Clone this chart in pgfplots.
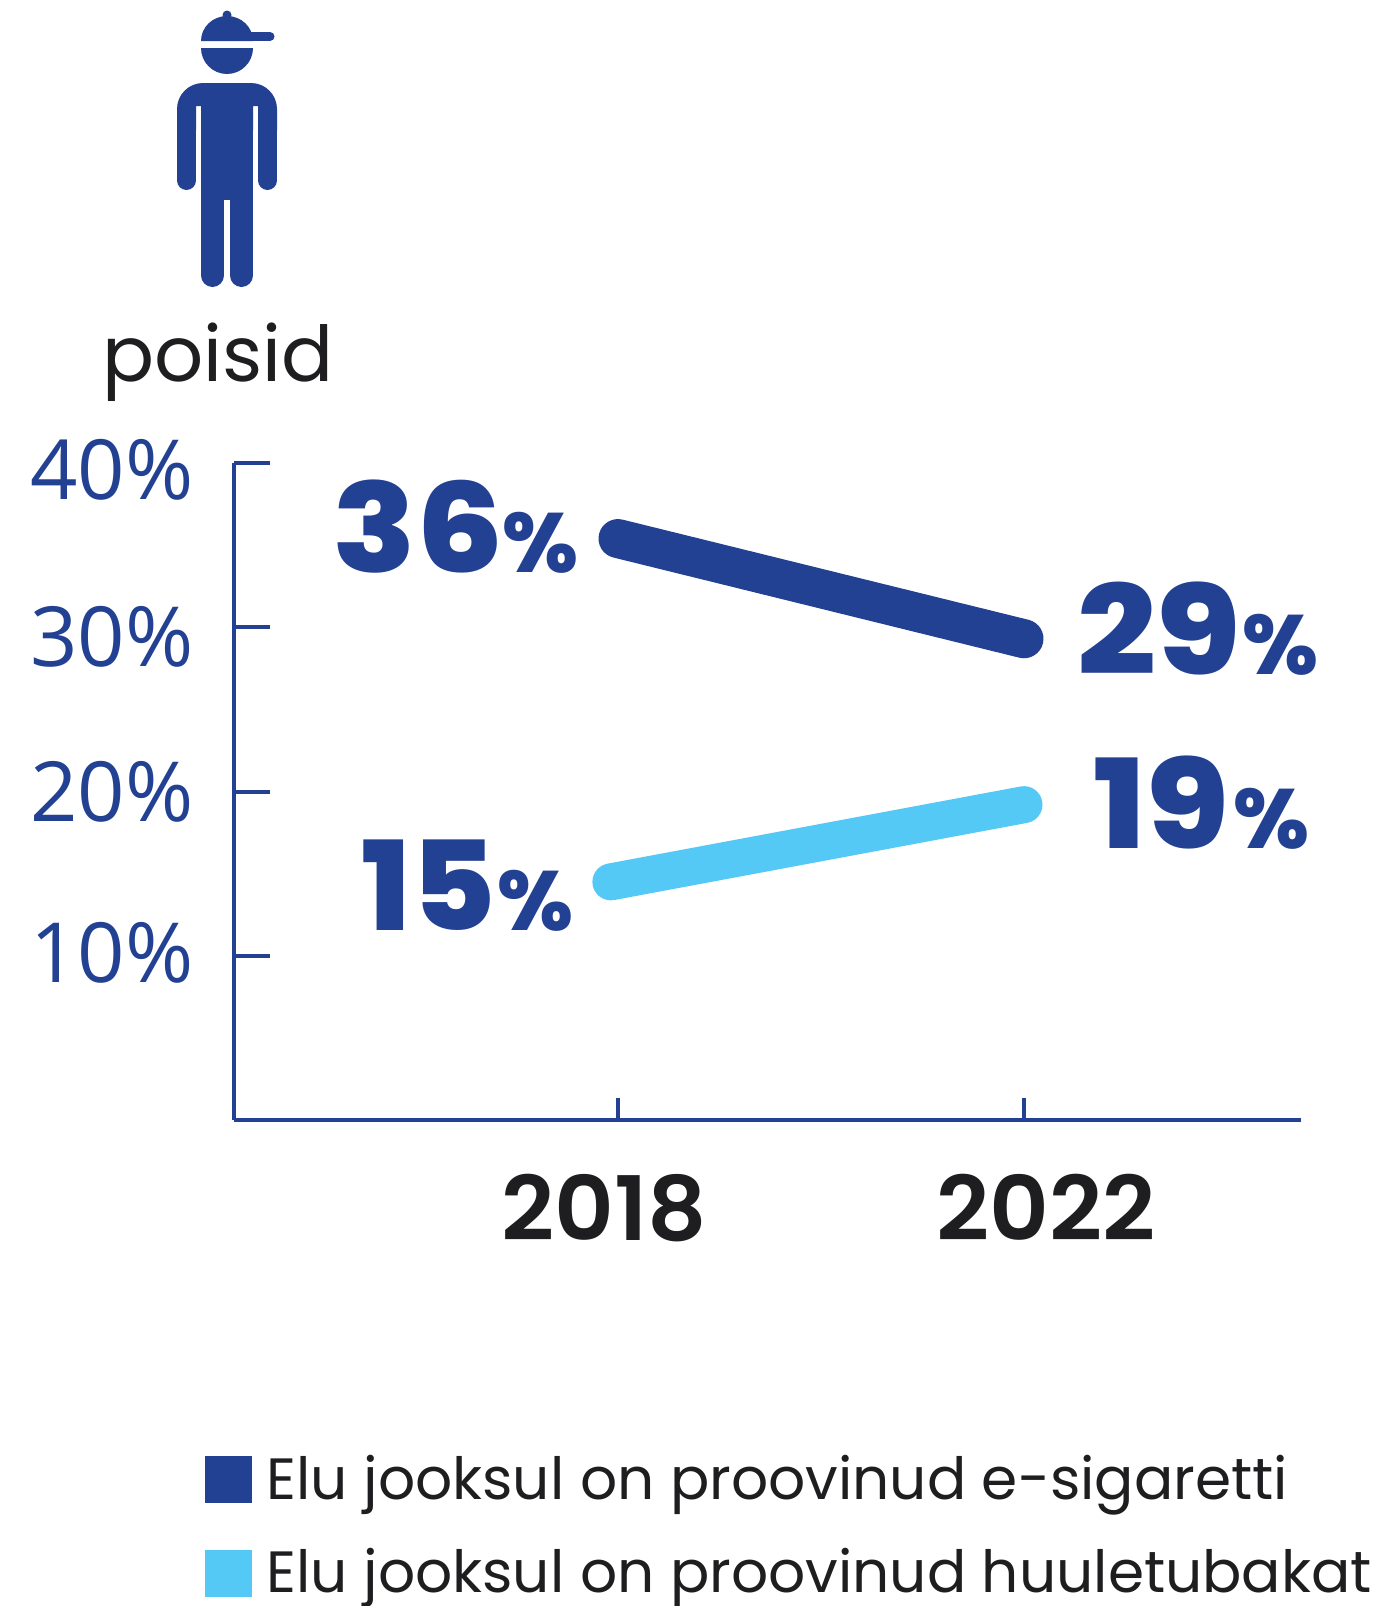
\documentclass[border=0pt]{standalone}
\usepackage{fontspec}
\usepackage{pgfplots}
\pgfplotsset{compat=1.18}
\setmainfont{Poppins}
\newfontfamily\ticks{Open Sans}
\newfontfamily\heavy{Poppins ExtraBold}
\newfontfamily\semi{Poppins SemiBold}
\definecolor{dark}{HTML}{234192}
\definecolor{light}{HTML}{55C9F6}
\definecolor{ink}{HTML}{1E1E20}
\newcommand{\bigval}[4]{\node[anchor=base west,inner sep=0pt,text=dark,xscale=#4,transform shape,font=\heavy\fontsize{62}{62}\selectfont] at (#1,#2) {#3};}
\newcommand{\bigpct}[2]{\node[anchor=base west,inner sep=0pt,text=dark,font=\heavy\fontsize{42}{42}\selectfont] at (#1,#2) {\%};}
\begin{document}
\begin{tikzpicture}[x=0.5pt,y=-0.5pt]
\path[use as bounding box] (0,0) rectangle (1382,1606);
% person icon
\fill[dark] (227,15) circle[radius=4.5];
\fill[dark] (201,41) arc[start angle=180,end angle=0,x radius=26,y radius=-25] -- cycle;
\draw[dark,line width=4.5pt,line cap=round] (250,36.5) -- (270,36.5);
\fill[dark] (201,48) arc[start angle=180,end angle=360,x radius=26,y radius=-26] -- cycle;
\fill[dark] (177,130) [rounded corners=13pt] -- (177,83) -- (277,83) [sharp corners] -- (277,130) -- (258,130) -- (258,106) -- (253,106) -- (253,130) -- (201,130) -- (201,106) -- (196,106) -- (196,130) -- cycle;
\fill[dark] (201,125) rectangle (253,200);
\draw[dark,line width=9.5pt,line cap=butt] (186.5,125) -- (186.5,180.5);
\draw[dark,line width=9.5pt,line cap=round] (186.5,140) -- (186.5,180.5);
\draw[dark,line width=9.5pt,line cap=butt] (267.5,125) -- (267.5,180.5);
\draw[dark,line width=9.5pt,line cap=round] (267.5,140) -- (267.5,180.5);
\draw[dark,line width=11.5pt,line cap=round] (212.5,170) -- (212.5,275.5);
\draw[dark,line width=11.5pt,line cap=round] (241.5,170) -- (241.5,275.5);
\node[anchor=base west,inner sep=0pt,text=ink,font=\fontsize{38.5}{38.5}\selectfont] at (102,381) {poisid};
\coordinate (A) at (234,1120);
\begin{axis}[
  at={(A)},anchor=south west,
  scale only axis,width=533.5pt,height=328.5pt,
  xmin=2014.217,xmax=2024.729,ymin=0,ymax=40,
  axis x line=bottom,axis y line=left,
  axis line style={dark,line width=2pt,-},
  xtick={2018,2022},ytick={10,20,30,40},
  tick align=inside,
  major tick length=18pt,
  x tick style={dark,line width=2pt,/pgfplots/major tick length=11pt},
  y tick style={dark,line width=2pt},
  xticklabels={\semi 2018\hspace{13pt}\mbox{},\hspace{21pt}\semi 2022},
  yticklabels={\raisebox{-13.5pt}{10\%},\raisebox{-15pt}{20\%},\raisebox{-19.5pt}{30\%},\raisebox{-18pt}{40\%}},
  xticklabel style={anchor=base,inner sep=0pt,yshift=-60pt,text=ink,xscale=1.04,transform shape,font=\fontsize{44.5}{44.5}\selectfont},
  yticklabel style={anchor=base east,inner sep=0pt,xshift=-20pt,text=dark,font=\ticks\fontsize{41.5}{41.5}\selectfont},
  clip=false,
  legend style={at={(-0.0272,-0.5113)},anchor=north west,draw=none,fill=none,
    font=\fontsize{29.1}{29.1}\selectfont,text=ink,row sep=17.2pt,inner sep=0pt,
    nodes={inner sep=0pt,anchor=base west,text height=20pt,text depth=8pt}},
  legend cell align=left,
  legend image code/.code={\fill[#1,draw=none] (0pt,-2pt) rectangle (23.5pt,21.5pt);},
]
\addplot[dark,line width=19.5pt,line cap=round] coordinates {(2018,35.4) (2022,29.3)};
\addplot[light,line width=18.5pt,line cap=round] coordinates {(2017.93,14.5) (2022,19.2)};
\legend{\hspace{7.2pt}Elu jooksul on proovinud e-sigaretti,\hspace{7.2pt}Elu jooksul on proovinud huuletubakat}
\end{axis}
\bigval{332}{572}{36}{1.11}\bigpct{502}{572}
\bigval{361}{930}{15}{1.04}\bigpct{497}{930}
\bigval{1077}{674}{29}{1.12}\bigpct{1242}{674}
\bigval{1093}{848}{19}{1.10}\bigpct{1233}{848}
\end{tikzpicture}
\end{document}
